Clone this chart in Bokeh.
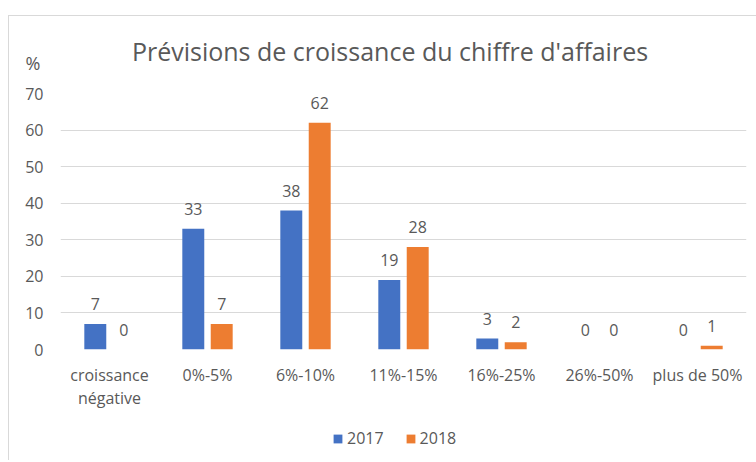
from bokeh.plotting import figure
from bokeh.layouts import column
from bokeh.models import (ColumnDataSource, FactorRange, Range1d, LabelSet, Label,
                          Legend, LegendItem, FixedTicker)
from bokeh.transform import dodge
from bokeh.core.properties import value
from bokeh.embed import file_html
from bokeh.resources import INLINE

# ---- data ----
categories = ["croissance\nnégative", "0%-5%", "6%-10%", "11%-15%", "16%-25%", "26%-50%", "plus de 50%"]
values_2017 = [7, 33, 38, 19, 3, 0, 0]
values_2018 = [0, 7, 62, 28, 2, 0, 1]
series_names = ["2017", "2018"]
y_ticks = [0, 10, 20, 30, 40, 50, 60, 70]
title_text = "Prévisions de croissance du chiffre d'affaires"
y_unit_label = "%"

FONT = "Open Sans"
GRAY = "#595959"
BLUE = "#4472C4"
ORANGE = "#ED7D31"
W = 747
FRAME_LEFT = 51

source = ColumnDataSource(dict(
    cat=categories,
    v2017=values_2017,
    v2018=values_2018,
    t2017=[str(v) for v in values_2017],
    t2018=[str(v) for v in values_2018],
))


def bare(height, x_range=None):
    f = figure(width=W, height=height,
               x_range=x_range if x_range is not None else Range1d(0, W),
               y_range=Range1d(0, height),
               x_axis_location=None, y_axis_location=None,
               output_backend="svg", toolbar_location=None,
               min_border_left=0, min_border_right=0, min_border_top=0, min_border_bottom=0)
    f.outline_line_color = None
    f.grid.grid_line_color = None
    f.background_fill_color = "white"
    f.border_fill_color = "white"
    return f


# ---- top strip: title and unit ----
TOP_H = 67
top = bare(TOP_H)
can_unalign = "frame_align" in top.properties()
shift = 0 if can_unalign else FRAME_LEFT
if can_unalign:
    top.frame_align = False
else:
    top.x_range = Range1d(FRAME_LEFT, W)

top.add_layout(Label(x=380.5, y=TOP_H - 34, text=title_text, text_align="center",
                     text_baseline="middle", text_font=FONT, text_font_size="25px",
                     text_color=GRAY))
top.add_layout(Label(x=16, y=TOP_H - 46.5, text=y_unit_label, text_align="left",
                     text_baseline="middle", text_font=FONT, text_font_size="18px",
                     text_color=GRAY))

# ---- main chart ----
p = figure(
    x_range=FactorRange(*categories),
    y_range=Range1d(0, 70),
    width=W, height=335,
    output_backend="svg", toolbar_location=None,
    min_border_left=FRAME_LEFT, min_border_right=10, min_border_top=10, min_border_bottom=69,
)
p.outline_line_color = None
p.background_fill_color = "white"
p.border_fill_color = "white"

bw = 0.224
off = 0.145
r1 = p.vbar(x=dodge("cat", -off, range=p.x_range), top="v2017", width=bw, source=source,
            fill_color=BLUE, line_color=None)
r2 = p.vbar(x=dodge("cat", off, range=p.x_range), top="v2018", width=bw, source=source,
            fill_color=ORANGE, line_color=None)

for col, o in (("2017", -off), ("2018", off)):
    ls = LabelSet(x=dodge("cat", o, range=p.x_range), y="v" + col, text="t" + col,
                  source=source, y_offset=20, text_align="center", text_baseline="middle",
                  text_font=value(FONT), text_font_size="16px", text_color=GRAY)
    p.add_layout(ls)

p.yaxis.ticker = FixedTicker(ticks=y_ticks)
p.yaxis.axis_line_color = None
p.yaxis.major_tick_line_color = None
p.yaxis.minor_tick_line_color = None
p.yaxis.major_tick_out = 0
p.yaxis.major_label_standoff = 17
p.yaxis.major_label_text_font = FONT
p.yaxis.major_label_text_font_size = "16px"
p.yaxis.major_label_text_color = GRAY

p.xaxis.axis_line_color = None
p.xaxis.major_tick_line_color = None
p.xaxis.major_tick_out = 0
p.xaxis.major_label_standoff = 14
p.xaxis.major_label_text_font = FONT
p.xaxis.major_label_text_font_size = "16px"
p.xaxis.major_label_text_color = GRAY
p.xaxis.major_label_text_line_height = 1.05

p.xgrid.grid_line_color = None
p.ygrid.grid_line_color = "#d9d9d9"
p.ygrid.grid_line_width = 1

# ---- legend strip ----
LEG_H = 42
leg = bare(LEG_H, x_range=FactorRange(*categories))
if can_unalign:
    leg.frame_align = False
l1 = leg.vbar(x="cat", top="v2017", width=0.2, source=source, fill_color=BLUE,
              line_color=None, visible=False)
l2 = leg.vbar(x="cat", top="v2018", width=0.2, source=source, fill_color=ORANGE,
              line_color=None, visible=False)
legend = Legend(items=[LegendItem(label=series_names[0], renderers=[l1]),
                       LegendItem(label=series_names[1], renderers=[l2])],
                orientation="horizontal", location=(323 - shift, 11),
                glyph_width=11, glyph_height=11, spacing=21, label_standoff=4,
                label_text_font=FONT, label_text_font_size="16px", label_text_color=GRAY,
                border_line_color=None, background_fill_alpha=0, margin=0, padding=0)
leg.add_layout(legend, "center")

page = column(top, p, leg, spacing=0,
              styles={"border-top": "1px solid #d9d9d9", "border-left": "1px solid #d9d9d9",
                      "margin-top": "15px", "margin-left": "8px"})

open("out.html", "w").write(file_html(page, INLINE))
